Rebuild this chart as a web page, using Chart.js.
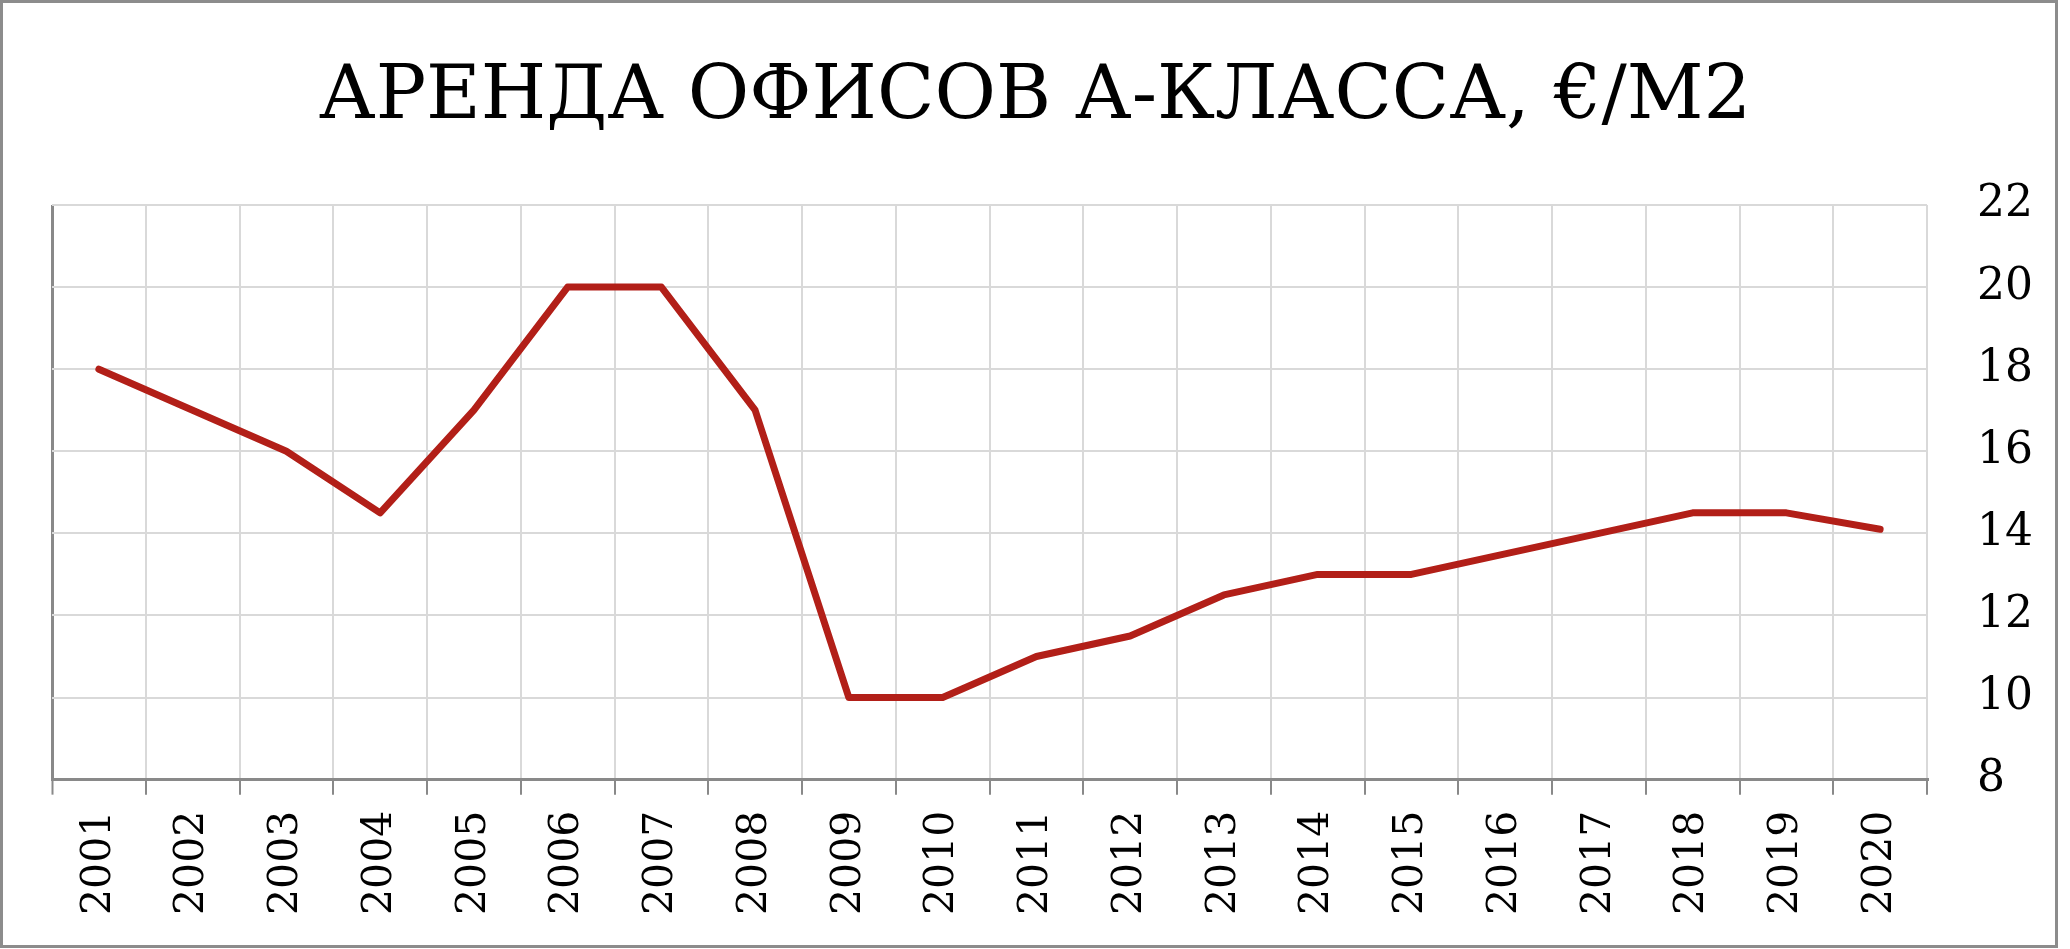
<!DOCTYPE html>
<html>
<head>
<meta charset="utf-8">
<script src="https://cdn.jsdelivr.net/npm/chart.js@4"></script>
<style>
    html, body { margin: 0; padding: 0; background: #fff; }
    .frame {
        position: absolute; left: 0; top: 0;
        width: 2058px; height: 948px;
        box-sizing: border-box;
        border: 3px solid #8c8c8c;
    }
    .wrap { position: absolute; left: 0; top: 0; width: 2070px; height: 949px; }
</style>
</head>
<body>
<div class="frame"></div>
<div class="wrap"><canvas id="rent"></canvas></div>
<script>
const years = [
    "2001", "2002", "2003", "2004", "2005", "2006", "2007", "2008", "2009", "2010",
    "2011", "2012", "2013", "2014", "2015", "2016", "2017", "2018", "2019", "2020"
];
const rent = [
    18, 17, 16, 14.5, 17, 20, 20, 17, 10, 10,
    11, 11.5, 12.5, 13, 13, 13.5, 14, 14.5, 14.5, 14.1
];
const yMin = 8;
const yMax = 22;
const yStep = 2;

const axisGrey = "#898989";
const gridGrey = "#d9d9d9";
const fontFamily = "'DejaVu Serif', serif";

new Chart(document.getElementById("rent"), {
    type: "line",
    data: {
        labels: years,
        datasets: [
            {
                data: rent,
                yAxisID: "y",
                borderColor: "#b21f18",
                borderWidth: 7,
                borderCapStyle: "round",
                borderJoinStyle: "round",
                pointRadius: 0,
                tension: 0,
                fill: false
            }
        ]
    },
    options: {
        responsive: true,
        maintainAspectRatio: false,
        animation: false,
        layout: {
            padding: { top: 46, left: 26, right: 26, bottom: 18 }
        },
        plugins: {
            legend: { display: false },
            tooltip: { enabled: false },
            title: {
                display: true,
                text: "АРЕНДА ОФИСОВ А-КЛАССА, €/М2",
                color: "#000",
                font: { family: fontFamily, size: 75, weight: "normal", lineHeight: 1.2 },
                padding: { top: 8, bottom: 61 }
            }
        },
        scales: {
            x: {
                offset: true,
                grid: {
                    offset: true,
                    color: ctx => ctx.index === 0 ? axisGrey : gridGrey,
                    lineWidth: ctx => ctx.index === 0 ? 3 : 2,
                    tickColor: axisGrey,
                    tickLength: 15,
                    tickWidth: 2
                },
                border: { color: axisGrey, width: 3 },
                ticks: {
                    autoSkip: false,
                    minRotation: 90,
                    maxRotation: 90,
                    padding: 16,
                    color: "#000",
                    font: { family: fontFamily, size: 41 }
                }
            },
            y: {
                position: "right",
                min: yMin,
                max: yMax,
                afterFit: scale => { scale.width = 117; },
                grid: {
                    color: ctx => ctx.tick && ctx.tick.value === yMin ? "rgba(0,0,0,0)" : gridGrey,
                    lineWidth: 2,
                    drawTicks: false
                },
                border: { display: false },
                ticks: {
                    stepSize: yStep,
                    padding: 50,
                    color: "#000",
                    font: { family: fontFamily, size: 44 }
                }
            },
            // empty left axis, only keeps the title centred on the page
            pad: {
                type: "linear",
                position: "left",
                afterFit: scale => { scale.width = 26; },
                grid: { display: false },
                border: { display: false },
                ticks: { display: false }
            }
        }
    }
});
</script>
</body>
</html>
